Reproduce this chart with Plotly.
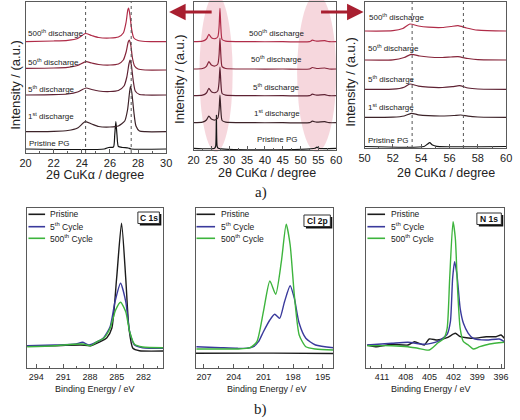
import plotly.graph_objects as go

W, H = 520, 420
def px(x): return x / W
def py(y): return 1 - y / H

# ---------------- XRD data (panel a) ----------------
# left zoom 20-30 deg
A1_PRIS_X = [20, 25.6, 25.9, 26.25, 26.34, 26.42, 26.5, 26.6, 26.9, 27.3, 27.5, 30]
A1_PRIS_Y = [4, 4, 5.5, 6, 18, 31.3, 18, 6.5, 5.5, 5, 4, 4]
A1_1ST_X = [20, 22, 23, 23.7, 24.25, 24.7, 25.2, 26.0, 26.6, 27.05, 27.25, 27.38, 27.46, 27.55, 27.7, 27.85, 28.1, 28.5, 30]
A1_1ST_Y = [21.3, 21.7, 22.5, 25, 31.3, 29, 26.5, 26, 27, 32, 43, 59, 67, 61, 41, 27, 22, 21.3, 21.3]
A1_5TH_X = [20, 22, 23, 23.7, 24.3, 24.7, 25.2, 26.0, 26.6, 27.0, 27.2, 27.35, 27.43, 27.52, 27.65, 27.8, 28.1, 28.5, 30]
A1_5TH_Y = [58, 58.3, 59, 61, 65, 63.5, 62, 61.5, 62.5, 67, 76, 89, 93, 88, 73, 62, 58.5, 58, 58]
A1_50TH_X = [20, 22, 23, 23.7, 24.3, 24.7, 25.2, 26.0, 26.6, 26.95, 27.15, 27.3, 27.38, 27.48, 27.6, 27.75, 28.0, 28.5, 30]
A1_50TH_Y = [84.7, 85, 85.7, 87.5, 91.3, 90, 88.5, 88, 89, 93, 101, 111, 113, 108, 95, 87, 84, 83, 83]
A1_500TH_X = [20, 22, 23, 23.7, 24.25, 24.7, 25.2, 26.0, 26.6, 26.95, 27.15, 27.27, 27.33, 27.42, 27.55, 27.7, 28.0, 28.5, 30]
A1_500TH_Y = [111.3, 112, 112.7, 114.5, 119.5, 117.5, 115.5, 115, 116, 120, 131, 143, 145, 138, 123, 115, 112.5, 111.5, 111.3]

# full range 20-60 deg
A2_PRIS_X = [20, 25.9, 26.2, 26.4, 26.6, 26.9, 54.1, 54.6, 55.1, 60]
A2_PRIS_Y = [1.7, 1.7, 4, 35, 4, 1.7, 1.7, 3, 1.7, 1.7]
A2_X = [20, 22.5, 23.6, 24.3, 25.0, 26.0, 26.8, 27.15, 27.4, 27.65, 28.0, 29.0, 35, 45, 52.5, 53.3, 54.5, 56.8, 58, 60]
A2_1ST_Y = [27.3, 27.8, 30, 34, 31, 30, 32, 40, 55, 40, 29.5, 27.8, 27.3, 27.3, 27.3, 28.8, 27.8, 28.3, 27.3, 27.3]
A2_5TH_Y = [54.3, 54.8, 57, 61.7, 58.3, 57.3, 59.3, 68, 83, 68, 56.5, 54.8, 54.3, 54.3, 54.3, 55.8, 54.8, 55.3, 54.3, 54.3]
A2_50TH_Y = [81, 81.5, 83.7, 88.3, 85, 84, 86, 95, 112, 95, 83.3, 81.5, 81, 81, 81, 82.5, 81.5, 82, 81, 81]
A2_500TH_Y = [108.3, 108.8, 111, 115.7, 112.3, 111.3, 113.3, 123, 141.7, 123, 110.5, 108.8, 108.3, 108.3, 108.3, 109.8, 108.8, 109.3, 108.3, 108.3]

# right zoom 50-60 deg
A3_PRIS_X = [50, 54.2, 54.45, 54.6, 54.8, 55.1, 60]
A3_PRIS_Y = [1.5, 1.5, 4, 5.3, 3, 1.7, 1.5]
A3_1ST_X = [50, 52, 52.8, 53.3, 53.8, 54.5, 55.5, 56.3, 56.8, 57.3, 58, 60]
A3_1ST_Y = [30.7, 30.8, 32, 34.7, 33.2, 32.3, 32, 32.5, 33, 31.8, 31, 30.7]
A3_5TH_X = [50, 52, 52.8, 53.2, 53.8, 54.5, 55.5, 56.2, 56.7, 57.3, 58, 60]
A3_5TH_Y = [58.7, 58.8, 60.8, 64, 61.8, 60.8, 60.5, 61.3, 62.3, 60, 59, 58.7]
A3_50TH_X = [50, 52, 52.8, 53.3, 53.9, 54.5, 55.5, 56.1, 56.6, 57.3, 58, 60]
A3_50TH_Y = [88, 88.2, 90.5, 93.7, 92, 91, 90.5, 91, 91.3, 89.5, 88.3, 88]
A3_500TH_X = [50, 52, 52.7, 53.2, 53.8, 54.5, 55.5, 56.1, 56.6, 57.2, 58, 60]
A3_500TH_Y = [117, 117.3, 119.5, 124, 122, 120.8, 120.5, 121.5, 122.3, 120, 117.8, 117]

XRD_NAMES = ["Pristine PG", "1<sup>st</sup> discharge", "5<sup>th</sup> discharge",
             "50<sup>th</sup> discharge", "500<sup>th</sup> discharge"]
XRD_COLORS = ["#151515", "#3d2329", "#5e2233", "#86263b", "#b02c48"]

# ---------------- XPS data (panel b) ----------------
C1S_PRIS_X = [295.02, 291.93, 289.02, 287.93, 286.84, 286.11, 285.56, 285.02, 284.47, 284.0, 283.64, 283.2, 282.47, 279.82]
C1S_PRIS_Y = [22, 22, 22.7, 22, 26, 30, 39.4, 89.4, 144.4, 89.4, 39.4, 19.4, 17, 16.7]
C1S_5TH_X = [295.02, 291.93, 289.56, 288.84, 288.11, 287.2, 286.47, 285.75, 285.2, 284.58, 284.0, 283.56, 283.02, 282.11, 279.82]
C1S_5TH_Y = [22, 22.7, 23.7, 25.4, 22.7, 26, 30, 41, 66, 84.4, 66, 36, 22.7, 20, 19.4]
C1S_500TH_X = [295.02, 291.93, 288.84, 287.93, 287.2, 286.47, 285.75, 285.13, 284.58, 284.0, 283.56, 283.02, 282.11, 279.82]
C1S_500TH_Y = [21, 22, 23.7, 22, 26, 29.4, 39.4, 57.7, 65.4, 56, 36, 23.4, 20.7, 20]

CL2P_PRIS_X = [207.8, 200.0, 193.95]
CL2P_PRIS_Y = [14.4, 14.6, 14.2]
CL2P_5TH_X = [207.76, 205.29, 203.64, 202.65, 202.0, 201.5, 201.0, 200.35, 199.86, 199.36, 198.87, 198.3, 197.88, 197.39, 196.72, 195.74, 193.93]
CL2P_5TH_Y = [21, 20, 19.4, 19.4, 21, 26, 36, 47.7, 53.4, 49.4, 66, 82, 69.4, 44.4, 29.4, 22.7, 20]
CL2P_500TH_X = [207.76, 205.29, 203.64, 202.33, 201.66, 201.0, 200.35, 199.76, 199.19, 198.7, 198.3, 197.88, 197.39, 196.72, 195.74, 193.93]
CL2P_500TH_Y = [18.7, 18.7, 18.7, 20, 26, 56, 86.7, 73.4, 106, 143.4, 122.7, 72.7, 32.7, 21, 18.7, 17.7]

N1S_PRIS_X = [412.85, 411.82, 409.77, 407.72, 406.9, 405.67, 405.05, 404.02, 402.79, 401.76, 401.15, 399.51, 397.86, 396.63, 396.01, 395.6]
N1S_PRIS_Y = [22.7, 21, 23.4, 22.7, 26, 22.7, 28.7, 27.7, 30, 34.4, 31, 29.4, 31, 31, 32.7, 29.4]
N1S_5TH_X = [412.85, 409.77, 407.72, 405.67, 404.02, 402.79, 402.38, 402.1, 401.85, 401.55, 401.15, 400.74, 400.13, 399.51, 397.86, 396.22, 395.6]
N1S_5TH_Y = [22.7, 24.4, 25.4, 23.4, 26, 33.4, 46, 89.4, 106, 92.7, 59.4, 44.4, 34.4, 29.4, 27.7, 28.7, 26]
N1S_500TH_X = [412.85, 409.77, 407.72, 406.48, 405.05, 404.02, 403.2, 402.79, 402.47, 402.05, 401.76, 401.48, 401.15, 400.74, 400.13, 399.51, 398.68, 397.45, 395.6]
N1S_500TH_Y = [22, 22, 21, 19.4, 17.7, 24.4, 29.4, 39.4, 89.4, 146, 129.4, 79.4, 39.4, 26, 22.7, 18.7, 21, 23.7, 25.4]

XPS_NAMES = ["Pristine", "5<sup>th</sup> Cycle", "500<sup>th</sup> Cycle"]
XPS_COLORS = ["#1c1c1c", "#3a3a9c", "#3db43d"]

FONT = "Liberation Sans, Arial, sans-serif"

fig = go.Figure()

def add(xs, ys, ax, color, width=1.2):
    fig.add_trace(go.Scatter(x=xs, y=ys, mode="lines", xaxis="x" + ax, yaxis="y" + ax,
                             line=dict(color=color, width=width, shape="spline", smoothing=0.6),
                             showlegend=False, hoverinfo="skip"))

a1 = [(A1_PRIS_X, A1_PRIS_Y), (A1_1ST_X, A1_1ST_Y), (A1_5TH_X, A1_5TH_Y), (A1_50TH_X, A1_50TH_Y), (A1_500TH_X, A1_500TH_Y)]
a2 = [(A2_PRIS_X, A2_PRIS_Y), (A2_X, A2_1ST_Y), (A2_X, A2_5TH_Y), (A2_X, A2_50TH_Y), (A2_X, A2_500TH_Y)]
a3 = [(A3_PRIS_X, A3_PRIS_Y), (A3_1ST_X, A3_1ST_Y), (A3_5TH_X, A3_5TH_Y), (A3_50TH_X, A3_50TH_Y), (A3_500TH_X, A3_500TH_Y)]
for ax, data in (("", a1), ("2", a2), ("3", a3)):
    for (xs, ys), c in zip(data, XRD_COLORS):
        add(xs, ys, ax, c, 1.2)

b1 = [(C1S_PRIS_X, C1S_PRIS_Y), (C1S_5TH_X, C1S_5TH_Y), (C1S_500TH_X, C1S_500TH_Y)]
b2 = [(CL2P_PRIS_X, CL2P_PRIS_Y), (CL2P_5TH_X, CL2P_5TH_Y), (CL2P_500TH_X, CL2P_500TH_Y)]
b3 = [(N1S_PRIS_X, N1S_PRIS_Y), (N1S_5TH_X, N1S_5TH_Y), (N1S_500TH_X, N1S_500TH_Y)]
for ax, data in (("4", b1), ("5", b2), ("6", b3)):
    for (xs, ys), c in zip(data, XPS_COLORS):
        add(xs, ys, ax, c, 1.4)

# ---------------- axes ----------------
panels = {
    "": dict(x=(20, 164), y=(2, 153), rng=[20, 30], yr=[0, 151], t0=20, dt=2, mdt=1, fs=11),
    "2": dict(x=(192, 338), y=(2, 150), rng=[20, 60], yr=[0, 148], t0=20, dt=5, mdt=2.5, fs=11),
    "3": dict(x=(367, 512), y=(2, 148), rng=[50, 60], yr=[0, 146], t0=50, dt=2, mdt=1, fs=11),
    "4": dict(x=(21, 161), y=(208.3, 367.7), rng=[295.1, 279.8], yr=[0, 159.4], t0=282, dt=3, mdt=1.5, fs=9),
    "5": dict(x=(194, 335), y=(208.3, 367.7), rng=[207.85, 193.95], yr=[0, 159.4], t0=195, dt=3, mdt=1.5, fs=9),
    "6": dict(x=(369, 510), y=(208.3, 367.7), rng=[412.95, 395.6], yr=[0, 159.4], t0=396, dt=3, mdt=1.5, fs=9),
}
lay = {}
for k, p in panels.items():
    lay["xaxis" + k] = dict(domain=[px(p["x"][0]), px(p["x"][1])], range=p["rng"], anchor="y" + k,
                            showline=True, mirror=True, linecolor="#5a5a5a", linewidth=1,
                            ticks="inside", ticklen=4, tickcolor="#5a5a5a", tick0=p["t0"], dtick=p["dt"],
                            minor=dict(ticks="inside", ticklen=2, tickcolor="#5a5a5a", dtick=p["mdt"], tick0=p["t0"]),
                            showgrid=False, zeroline=False,
                            tickfont=dict(family=FONT, size=p["fs"], color="#222"))
    lay["yaxis" + k] = dict(domain=[py(p["y"][1]), py(p["y"][0])], range=p["yr"], anchor="x" + k,
                            showline=True, mirror=True, linecolor="#5a5a5a", linewidth=1,
                            showticklabels=False, ticks="", showgrid=False, zeroline=False)

shapes = []
anns = []

def note(x, y, text, size, xa="center", ya="middle", family=FONT, color="#222", angle=0):
    anns.append(dict(x=px(x), y=py(y), xref="paper", yref="paper", text=text, showarrow=False,
                     xanchor=xa, yanchor=ya, textangle=angle,
                     font=dict(family=family, size=size, color=color)))

# pink ellipses in full-range panel
for x0, x1 in ((198, 232), (298, 338)):
    shapes.append(dict(type="circle", xref="paper", yref="paper", layer="below",
                       x0=px(x0), x1=px(x1), y0=py(152), y1=py(-6),
                       fillcolor="rgba(238,175,188,0.5)", line=dict(width=0)))

# reference dotted lines
for ax, vals in (("", [24.27, 27.51]), ("3", [53.36, 56.98])):
    for v in vals:
        shapes.append(dict(type="line", xref="x" + ax, yref=("y" + ax) + " domain", x0=v, x1=v, y0=0, y1=1,
                           line=dict(color="#555", width=1, dash="dot")))

# discharge labels
lab_a1 = [(22, 143), (20, 116), (20, 89), (20, 62), (20, 33)]
lab_a2 = [(277, 140), (277, 113), (277, 87), (277, 59), (277, 33)]
lab_a3 = [(369, 141), (369, 107), (369, 79), (369, 48), (370, 17)]
for pos, anchor in ((lab_a1, "left"), (lab_a2, "center"), (lab_a3, "left")):
    for (x, y), t in zip(pos, XRD_NAMES):
        note(x, y, t, 8, xa=anchor, color="#1a1a1a")

# axis titles
for x, y in ((10, 85), (177, 79), (353, 82)):
    note(x, y, "Intensity / (a.u.)", 13, angle=-90)
for x, y in ((91, 175), (267, 173), (450, 173)):
    note(x, y, "2θ CuKα / degree", 12.5)
for x in (91, 267, 435):
    note(x, 388.5, "Binding Energy / eV", 9)

note(261, 193, "a)", 15, family="Liberation Serif, Times New Roman, serif")
note(261, 409, "b)", 15, family="Liberation Serif, Times New Roman, serif")

# arrows
anns.append(dict(x=px(167), y=py(12), xref="paper", yref="paper", ax=44, ay=0, text="", showarrow=True,
                 arrowhead=2, arrowsize=1.1, arrowwidth=3, arrowcolor="#a81f30"))
anns.append(dict(x=px(366), y=py(12), xref="paper", yref="paper", ax=-44, ay=0, text="", showarrow=True,
                 arrowhead=2, arrowsize=1.1, arrowwidth=3, arrowcolor="#a81f30"))

# XPS legends
legs = [(23, 40, 43), (195, 214, 218), (370, 388, 392)]
rows = [214.3, 226.7, 238.3]
for (l0, l1, tx) in legs:
    for r, n, c in zip(rows, XPS_NAMES, XPS_COLORS):
        shapes.append(dict(type="line", xref="paper", yref="paper", x0=px(l0), x1=px(l1), y0=py(r), y1=py(r),
                           line=dict(color=c, width=1.6)))
        note(tx, r, n, 8.5, xa="left", color="#1a1a1a")

# element boxes
boxes = [("C 1s", 135, 157, 212, 223.5), ("Cl 2p", 305, 332, 215, 226.5), ("N 1s", 482, 507, 213, 224.5)]
for t, x0, x1, y0, y1 in boxes:
    shapes.append(dict(type="rect", xref="paper", yref="paper", x0=px(x0 + 2), x1=px(x1 + 2),
                       y0=py(y1 + 2), y1=py(y0 + 2), fillcolor="#111", line=dict(width=0)))
    shapes.append(dict(type="rect", xref="paper", yref="paper", x0=px(x0), x1=px(x1),
                       y0=py(y1), y1=py(y0), fillcolor="white", line=dict(color="#333", width=1)))
    note((x0 + x1) / 2, (y0 + y1) / 2, "<b>" + t + "</b>", 8.5, color="#111")

fig.update_layout(width=W, height=H, margin=dict(l=0, r=0, t=0, b=0), paper_bgcolor="white",
                  plot_bgcolor="rgba(0,0,0,0)", shapes=shapes, annotations=anns, showlegend=False, **lay)
fig.write_html("out.html", config={"displayModeBar": False},
               post_script=["document.body.style.margin='0px';"])
